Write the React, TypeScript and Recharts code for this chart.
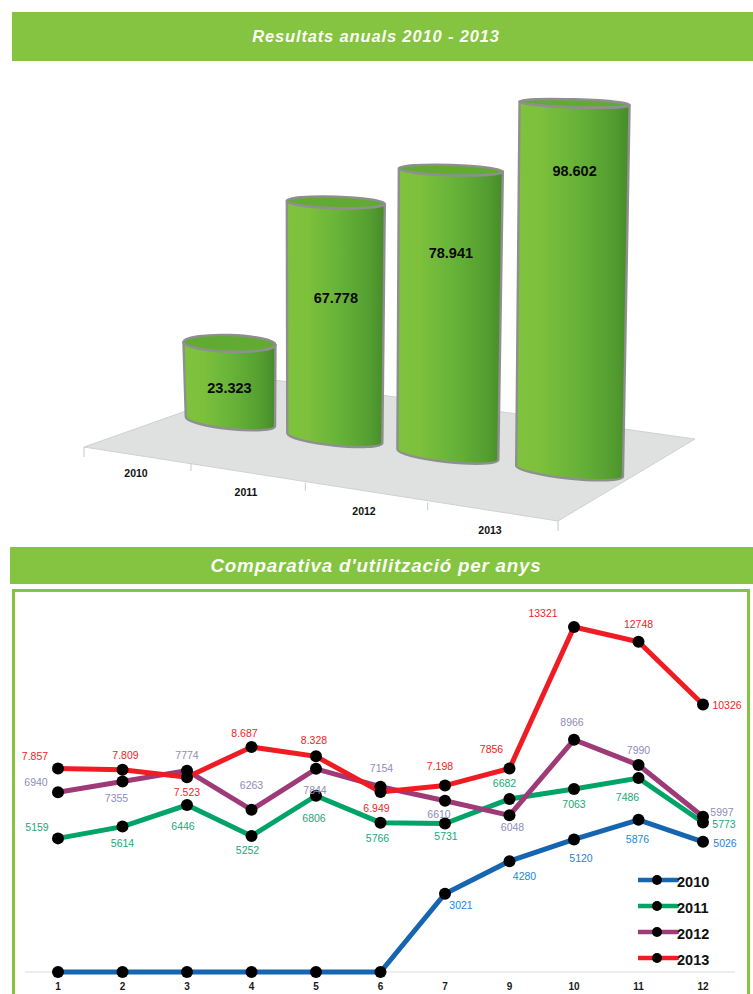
import React from "react";
import { BarChart, Bar, XAxis, YAxis, LabelList, Customized, LineChart, Line, Legend, ReferenceLine } from "recharts";

const FONT = "'Liberation Sans', Arial, sans-serif";
const BANNER_GREEN = "#85c441";

// ---------- annual results ----------
const years = ["2010", "2011", "2012", "2013"];
const annualTotals = [23323, 67778, 78941, 98602];
const annualDrops = [45, 96, 83, 68];

// ---------- monthly comparison ----------
const months = ["1", "2", "3", "4", "5", "6", "7", "9", "10", "11", "12"];
const values2010 = [0, 0, 0, 0, 0, 0, 3021, 4280, 5120, 5876, 5026];
const values2011 = [5159, 5614, 6446, 5252, 6806, 5766, 5731, 6682, 7063, 7486, 5773];
const values2012 = [6940, 7355, 7774, 6263, 7844, 7154, 6610, 6048, 8966, 7990, 5997];
const values2013 = [7857, 7809, 7523, 8687, 8328, 6949, 7198, 7856, 13321, 12748, 10326];

const labels2010 = ["", "", "", "", "", "", "3021", "4280", "5120", "5876", "5026"];
const labels2011 = ["5159", "5614", "6446", "5252", "6806", "5766", "5731", "6682", "7063", "7486", "5773"];
const labels2012 = ["6940", "7355", "7774", "6263", "7844", "7154", "6610", "6048", "8966", "7990", "5997"];
const labels2013 = ["7.857", "7.809", "7.523", "8.687", "8.328", "6.949", "7.198", "7856", "13321", "12748", "10326"];

// label placement relative to its point (layout only)
const offsets2010 = [[0, 0], [0, 0], [0, 0], [0, 0], [0, 0], [0, 0], [16, 11], [15, 15], [7, 19], [-1, 19], [22, 1]];
const offsets2011 = [[-21, -11], [0, 16], [-4, 21], [-4, 14], [-2, 22], [-3, 15], [1, 12], [-5, -16], [0, 15], [-11, 19], [21, 2]];
const offsets2012 = [[-22, -10], [-6, 16], [0, -16], [0, -25], [-1, 21], [1, -19], [-6, 13], [3, 12], [-2, -18], [0, -15], [19, -5]];
const offsets2013 = [[-23, -13], [3, -15], [0, 15], [-7, -14], [-2, -16], [-4, 16], [-5, -20], [-18, -20], [-31, -14], [0, -18], [24, 0]];

const annualRows = years.map((year, i) => ({ year, total: annualTotals[i] }));
const monthRows = months.map((month, i) => ({
  month,
  y2010: values2010[i],
  y2011: values2011[i],
  y2012: values2012[i],
  y2013: values2013[i],
}));

const dotted = (n: number) => String(n).replace(/\B(?=(\d{3})+$)/g, ".");

// ---------- pseudo 3D projection for the cylinders ----------
const FIRST_CX = 229;
const SPAN = 345;
const project = (cx: number, y: number, width: number, height: number) => {
  const u = (cx - FIRST_CX) / SPAN;
  const topCx = cx - 39 * u * (1 - u);
  const baseY = y + height + 49.5 * u;
  const h = height * (1 + 0.113 * u);
  const topY = baseY - h;
  const topW = width * (1 + 0.196 * u);
  const botCx = topCx + 1 - 6 * u;
  const botW = topW * 0.975;
  return { u, topCx, baseY, topY, topW, botCx, botW };
};

const rad = (deg: number) => (deg * Math.PI) / 180;

const Cylinder = (props: any) => {
  const { x, y, width, height } = props;
  const { topCx, baseY, topY, topW, botCx, botW } = project(x + width / 2, y, width, height);
  const topTilt = 1.8;
  const botTilt = 6;
  const topRy = 4 + (topY - 100) * 0.018;
  const botRy = 7.5;
  const tr = topW / 2;
  const br = botW / 2;
  const tl = [topCx - tr * Math.cos(rad(topTilt)), topY - tr * Math.sin(rad(topTilt))];
  const trp = [topCx + tr * Math.cos(rad(topTilt)), topY + tr * Math.sin(rad(topTilt))];
  const bl = [botCx - br * Math.cos(rad(botTilt)), baseY - br * Math.sin(rad(botTilt))];
  const brp = [botCx + br * Math.cos(rad(botTilt)), baseY + br * Math.sin(rad(botTilt))];
  const d = `M${tl[0]},${tl[1]} L${bl[0]},${bl[1]} A${br},${botRy} ${botTilt} 0 0 ${brp[0]},${brp[1]} L${trp[0]},${trp[1]} A${tr},${topRy} ${topTilt} 0 1 ${tl[0]},${tl[1]} Z`;
  return (
    <g>
      <ellipse
        cx={topCx}
        cy={topY}
        rx={tr}
        ry={topRy}
        transform={`rotate(${topTilt} ${topCx} ${topY})`}
        fill="#62ab33"
        stroke="#8f8f8f"
        strokeWidth={2.4}
      />
      <path d={d} fill="url(#cylinderShade)" stroke="#8f8f8f" strokeWidth={2.4} strokeLinejoin="round" />
    </g>
  );
};

const CylinderLabel = (props: any) => {
  const vb = props.viewBox || props;
  const { topCx, topY } = project(vb.x + vb.width / 2, vb.y, vb.width, vb.height);
  return (
    <text
      x={topCx}
      y={topY + annualDrops[props.index]}
      textAnchor="middle"
      dominantBaseline="central"
      fontFamily={FONT}
      fontWeight={700}
      fontSize={14.5}
      fill="#0a0a0a"
    >
      {dotted(props.value)}
    </text>
  );
};

const Floor = () => (
  <g>
    <defs>
      <linearGradient id="cylinderShade" x1="0" y1="0" x2="1" y2="0">
        <stop offset="0" stopColor="#7fc23d" />
        <stop offset="0.22" stopColor="#7cc03c" />
        <stop offset="0.55" stopColor="#66b238" />
        <stop offset="0.85" stopColor="#549e30" />
        <stop offset="1" stopColor="#468a2a" />
      </linearGradient>
    </defs>
    <polygon points="84,447 274,380 695,439 558,521" fill="#dfe0e0" stroke="#d0d0d0" strokeWidth={1} />
    <line x1={84} y1={447} x2={84} y2={457} stroke="#c9c9c9" />
    <line x1={558} y1={521} x2={558} y2={531} stroke="#c9c9c9" />
  </g>
);

const YearTick = (props: any) => {
  const { x, payload } = props;
  const u = (x - FIRST_CX) / SPAN;
  const labelX = 136 + 354 * u - 36 * u * (1 - u);
  const labelY = 473 + u * 57 - 1.5 * u * (1 - u);
  const tickX = labelX + 55 + 13 * u;
  const tickY = 463 + u * 59;
  return (
    <g>
      {u < 0.99 && <line x1={tickX} y1={tickY} x2={tickX} y2={tickY + 8} stroke="#c9c9c9" />}
      <text x={labelX} y={labelY} textAnchor="middle" dominantBaseline="central" fontFamily={FONT} fontWeight={700} fontSize={10.5} fill="#111">
        {payload.value}
      </text>
    </g>
  );
};

// ---------- line chart helpers ----------
const makeLabel = (texts: string[], offsets: number[][], color: string) => (props: any) => {
  const vb = props.viewBox || props;
  const text = texts[props.index];
  if (!text) return null;
  const [dx, dy] = offsets[props.index];
  return (
    <text x={vb.x + dx} y={vb.y + dy} textAnchor="middle" dominantBaseline="central" fontFamily={FONT} fontSize={10.5} fill={color}>
      {text}
    </text>
  );
};

const LegendBlock = (props: any) => (
  <svg width={90} height={104} style={{ display: "block" }}>
    {(props.payload || []).map((item: any, i: number) => {
      const y = 6 + i * 26;
      return (
        <g key={item.value}>
          <line x1={0} y1={y} x2={39} y2={y} stroke={item.color} strokeWidth={4.5} strokeLinecap="round" />
          <circle cx={19} cy={y} r={5} fill="#000" />
          <text x={39} y={y + 2} dominantBaseline="central" fontFamily={FONT} fontWeight={700} fontSize={14.5} fill="#111">
            {item.value}
          </text>
        </g>
      );
    })}
  </svg>
);

const lineSeries = [
  { key: "y2010", name: "2010", stroke: "#1565b0", text: labels2010, off: offsets2010, ink: "#1b86dc" },
  { key: "y2011", name: "2011", stroke: "#00a468", text: labels2011, off: offsets2011, ink: "#1aa877" },
  { key: "y2012", name: "2012", stroke: "#9e3a78", text: labels2012, off: offsets2012, ink: "#8e8cbc" },
  { key: "y2013", name: "2013", stroke: "#f01c24", text: labels2013, off: offsets2013, ink: "#f21c24" },
];

const bannerStyle = (left: number, top: number, height: number, fontSize: number, spacing: number): React.CSSProperties => ({
  position: "absolute",
  left,
  top,
  width: 753 - left,
  height,
  lineHeight: `${height}px`,
  background: BANNER_GREEN,
  color: "#fbfdf6",
  fontFamily: FONT,
  fontStyle: "italic",
  fontWeight: 700,
  fontSize,
  letterSpacing: spacing,
  textAlign: "center",
  paddingRight: 2 * ((left + 753) / 2 - 376),
  boxSizing: "border-box",
});

export default function App() {
  return (
    <div style={{ position: "absolute", left: 0, top: 0, width: 753, height: 994, overflow: "hidden", background: "#fff" }}>
      <div style={{ position: "absolute", left: 0, top: 0 }}>
        <BarChart
          width={753}
          height={540}
          data={annualRows}
          margin={{ top: 86.5, left: 171.5, right: 121.5, bottom: 88.5 }}
          barSize={92}
        >
          <Customized component={Floor} />
          <XAxis dataKey="year" height={30} axisLine={false} tickLine={false} interval={0} tick={<YearTick />} />
          <YAxis hide domain={[0, 100000]} />
          <Bar dataKey="total" isAnimationActive={false} shape={<Cylinder />}>
            <LabelList dataKey="total" content={CylinderLabel} />
          </Bar>
        </BarChart>
      </div>

      <div style={bannerStyle(12, 12, 49, 16.5, 0.85)}>Resultats anuals 2010 - 2013</div>
      <div style={bannerStyle(10, 547, 37, 18.8, 0.8)}>Comparativa d'utilització per anys</div>

      <div
        style={{
          position: "absolute",
          left: 12,
          top: 589,
          width: 738,
          height: 420,
          boxSizing: "border-box",
          border: `3px solid ${BANNER_GREEN}`,
        }}
      />

      <div style={{ position: "absolute", left: 0, top: 589 }}>
        <LineChart width={753} height={405} data={monthRows} margin={{ top: 20.4, left: 25, right: 18, bottom: 0 }}>
          <XAxis
            dataKey="month"
            height={22}
            interval={0}
            padding={{ left: 33, right: 32 }}
            axisLine={false}
            tickLine={false}
            tickMargin={5}
            tick={{ fontFamily: FONT, fontSize: 10, fontWeight: 700, fill: "#1a1a1a" }}
          />
          <YAxis hide domain={[0, 14000]} />
          <ReferenceLine y={0} stroke="#dcdcdc" zIndex={100} />
          <Legend
            layout="vertical"
            align="center"
            verticalAlign="middle"
            content={<LegendBlock />}
            wrapperStyle={{ left: 638, top: 285, bottom: "auto", width: 90 }}
          />
          {lineSeries.map((s) => (
            <Line
              key={s.key}
              type="linear"
              dataKey={s.key}
              name={s.name}
              stroke={s.stroke}
              strokeWidth={5}
              isAnimationActive={false}
              dot={{ r: 6, fill: "#000", stroke: "#000", strokeWidth: 0 }}
            >
              <LabelList dataKey={s.key} content={makeLabel(s.text, s.off, s.ink)} />
            </Line>
          ))}
        </LineChart>
      </div>
    </div>
  );
}
